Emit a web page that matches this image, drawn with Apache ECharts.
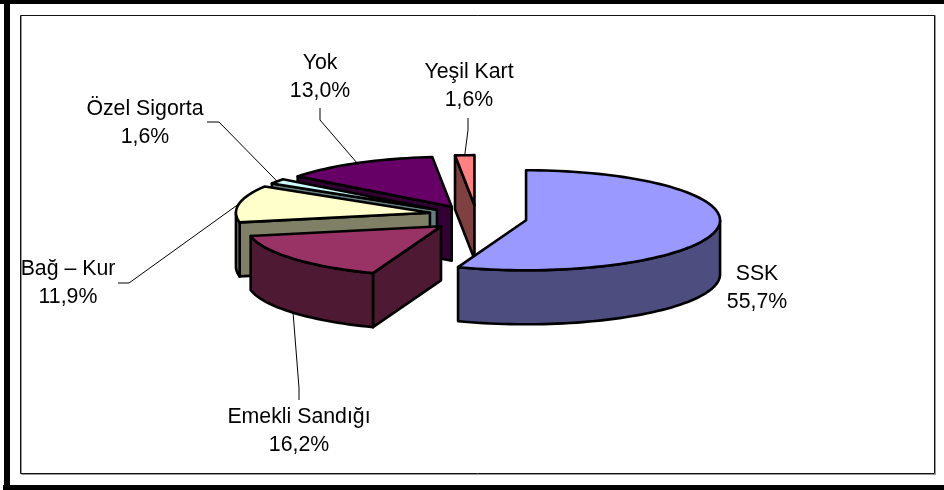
<!DOCTYPE html>
<html>
<head>
<meta charset="utf-8">
<style>html,body{margin:0;padding:0;background:#fff}#c{width:944px;height:490px}</style>
<script src="https://cdn.jsdelivr.net/npm/echarts@6/dist/echarts.min.js"></script>
</head>
<body>
<div id="c"></div>
<script>
// Data
const categories = ['SSK', 'Emekli Sandığı', 'Bağ – Kur', 'Özel Sigorta', 'Yok', 'Yeşil Kart'];
const shares = [55.7, 16.2, 11.9, 1.6, 13.0, 1.6];

// Styles
const topColors = ['#9999FF', '#993366', '#FFFFCC', '#CCFFFF', '#660066', '#FF8080'];
const sideColors = ['#4D4D80', '#4D1933', '#808066', '#668080', '#330033', '#804040'];
const zOrder = [6, 4, 3, 2, 1, 5];

// Projection of the tilted, exploded pie
const pie = { cx: 476, cy: 218, rx: 194, ry: 50, depth: 54, explode: 0.257 };
const explodeNudge = [[1, 0], [3, 0], [3, -3], [2, -1], [0, 0], [1, 0]];

// Label centres and leader elbows (page layout)
const labelLayout = [
  { x: 757, y: 288 },
  { x: 299, y: 431, elbow: [[299, 400], [299, 388]] },
  { x: 68, y: 283, elbow: [[118, 283], [129, 283]] },
  { x: 145, y: 123, elbow: [[207, 122], [219, 122]] },
  { x: 320, y: 77, elbow: [[320, 108], [320, 120]] },
  { x: 469, y: 86, elbow: [[468, 118], [468, 130]] }
];

const total = shares.reduce((a, b) => a + b, 0);
const starts = [];
shares.reduce((acc, v, i) => { starts[i] = acc; return acc + v; }, 0);
const rad = d => d * Math.PI / 180;

function renderSlice(params, api) {
  const i = api.value(0);
  const value = api.value(1);
  const a0 = starts[i] / total * 360;
  const a1 = a0 + value / total * 360;
  const mid = (a0 + a1) / 2;
  const ax = pie.cx + pie.rx * pie.explode * Math.sin(rad(mid)) + explodeNudge[i][0];
  const ay = pie.cy - pie.ry * pie.explode * Math.cos(rad(mid)) + explodeNudge[i][1];
  const rimPt = a => [ax + pie.rx * Math.sin(rad(a)), ay - pie.ry * Math.cos(rad(a))];
  const down = p => [p[0], p[1] + pie.depth];
  const arc = (from, to) => {
    const n = Math.max(2, Math.ceil((to - from) / 2));
    const out = [];
    for (let k = 0; k <= n; k++) out.push(rimPt(from + (to - from) * k / n));
    return out;
  };
  const base = zOrder[i] * 10;
  const stroke = { stroke: '#000', lineWidth: 2.6, lineJoin: 'round' };
  const poly = (points, fill, z) => ({
    type: 'polygon', z2: base + z, shape: { points }, style: Object.assign({ fill }, stroke)
  });
  const children = [];
  const apex = [ax, ay];
  if (a0 >= 180) {
    const p = rimPt(a0);
    children.push(poly([apex, p, down(p), down(apex)], sideColors[i], 1));
  }
  if (a1 <= 180) {
    const p = rimPt(a1);
    children.push(poly([apex, p, down(p), down(apex)], sideColors[i], 1));
  }
  const r0 = Math.max(a0, 90), r1 = Math.min(a1, 270);
  if (r1 > r0) {
    const top = arc(r0, r1);
    children.push(poly(top.concat(top.map(down).reverse()), sideColors[i], 2));
  }
  children.push(poly([apex].concat(arc(a0, a1)), topColors[i], 3));

  const lay = labelLayout[i];
  if (lay.elbow) {
    let end = rimPt(mid);
    if (mid > 90 && mid < 270) end = down(end);
    children.push({
      type: 'polyline', z2: 1,
      shape: { points: lay.elbow.concat([end]) },
      style: { fill: 'none', stroke: '#000', lineWidth: 1 }
    });
  }
  children.push({
    type: 'text', z2: 300, x: lay.x, y: lay.y,
    style: {
      text: categories[i] + '\n' + value.toFixed(1).replace('.', ',') + '%',
      fill: '#000', font: '21.3px "Liberation Sans", Arial, sans-serif',
      lineHeight: 28, align: 'center', verticalAlign: 'middle'
    }
  });
  return { type: 'group', children };
}

const chart = echarts.init(document.getElementById('c'), null, { renderer: 'canvas' });
chart.setOption({
  animation: false,
  backgroundColor: '#fff',
  graphic: [
    { type: 'rect', z: 1, shape: { x: 0, y: 0, width: 944, height: 4 }, style: { fill: '#000' } },
    { type: 'rect', z: 1, shape: { x: 4, y: 0, width: 6, height: 485 }, style: { fill: '#000' } },
    { type: 'rect', z: 1, shape: { x: 3, y: 485, width: 941, height: 5 }, style: { fill: '#000' } },
    { type: 'rect', z: 1, shape: { x: 21.5, y: 15.5, width: 914, height: 459 }, style: { fill: 'none', stroke: '#999', lineWidth: 1 } },
    { type: 'rect', z: 1, shape: { x: 20.5, y: 15.5, width: 914, height: 458 }, style: { fill: 'none', stroke: '#111', lineWidth: 1 } }
  ],
  series: [{
    type: 'custom',
    coordinateSystem: 'none',
    silent: true,
    z: 5,
    data: shares.map((v, i) => [i, v]),
    renderItem: renderSlice
  }]
});
</script>
</body>
</html>
